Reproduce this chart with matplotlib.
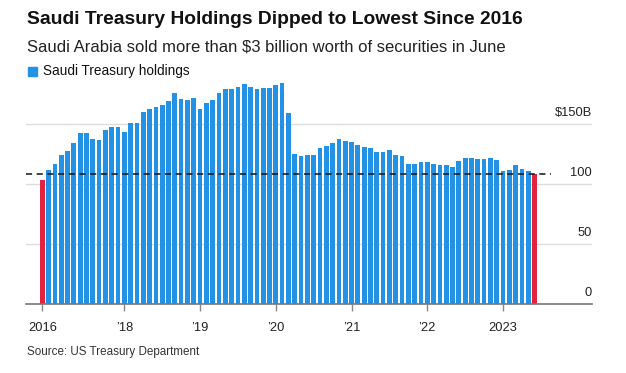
import matplotlib
matplotlib.use("Agg")
import matplotlib.pyplot as plt
from matplotlib.patches import Rectangle

# ---- data (monthly, Dec 2016 .. Jun 2023), $ billions ----
holdings = [
    103.3, 112.2, 116.7, 124.7, 127.5, 134.7, 142.5, 142.5, 138.0, 137.0,
    145.0, 148.0, 148.0, 143.6, 151.4, 151.4, 160.3, 162.5, 164.2, 166.4,
    169.4, 176.4, 171.4, 170.3, 171.9, 163.0, 167.5, 170.3, 176.4, 179.2,
    179.7, 180.8, 183.3, 181.4, 179.2, 180.0, 180.0, 182.5, 184.7, 159.4,
    125.6, 123.6, 124.4, 124.4, 130.0, 132.0, 134.4, 138.0, 136.4, 135.3,
    132.5, 131.1, 130.0, 127.2, 127.2, 128.3, 124.7, 123.9, 116.7, 116.7,
    118.9, 118.9, 116.7, 115.8, 115.8, 114.7, 119.2, 121.7, 121.7, 120.8,
    120.8, 121.9, 120.0, 111.1, 112.2, 116.2, 113.0, 111.0, 108.3,
]
highlight = [0, len(holdings) - 1]          # bars drawn in red
xtick_idx = [0, 13, 25, 37, 49, 61, 73]
xtick_labels = ["2016", "\u201918", "\u201919", "\u201920", "\u201921", "\u201922", "2023"]
ytick_vals = [0, 50, 100, 150]
ytick_labels = ["0", "50", "100", "$150B"]

BLUE = "#2392e4"
RED = "#e0243f"
FONT = ["Liberation Sans", "DejaVu Sans"]
plt.rcParams["font.family"] = FONT

W, H = 626, 373
fig = plt.figure(figsize=(W / 100, H / 100), dpi=100)

# plot area in pixels
px_left, px_right = 26, 592
px_zero, px_top = 304.3, 76.3
ax = fig.add_axes([px_left / W, 1 - px_zero / H,
                   (px_right - px_left) / W, (px_zero - px_top) / H])

x = list(range(len(holdings)))
colors = [RED if i in highlight else BLUE for i in x]
ax.bar(x, holdings, width=0.75, color=colors, zorder=2, linewidth=0)

ax.set_xlim(-2.58, 87.1)
ax.set_ylim(0, 190)

# gridlines
for v in ytick_vals[1:]:
    ax.axhline(v, color="#dcdcdc", linewidth=1.0, zorder=1)
for v, lab in zip(ytick_vals, ytick_labels):
    ax.text(1.0, v + 9.7, lab, transform=ax.get_yaxis_transform(),
            ha="right", va="center", fontsize=9.3, color="#222222")

# dashed reference line at latest value
ax.hlines(holdings[-1], -2.58, len(holdings) - 1 + 2.6, colors="#111111",
          linestyles=(0, (4, 3)), linewidth=1.1, zorder=3)

for s in ["top", "right", "left"]:
    ax.spines[s].set_visible(False)
ax.spines["bottom"].set_color("#777777")
ax.spines["bottom"].set_linewidth(1.2)
ax.spines["bottom"].set_zorder(4)
ax.set_yticks([])
ax.set_xticks(xtick_idx)
ax.set_xticklabels(xtick_labels)
ax.tick_params(axis="x", length=5, width=1, color="#888888", pad=8,
               labelsize=9.3, labelcolor="#222222")

# titles
fig.text(27 / W, 1 - 19 / H, "Saudi Treasury Holdings Dipped to Lowest Since 2016",
         fontsize=13.9, fontweight="bold", ha="left", va="center", color="#111111")
fig.text(27 / W, 1 - 47 / H,
         "Saudi Arabia sold more than $3 billion worth of securities in June",
         fontsize=12.0, ha="left", va="center", color="#222222")
# legend
fig.patches.append(Rectangle((28 / W, 1 - 76 / H), 9 / W, 9 / H,
                             transform=fig.transFigure, color=BLUE))
fig.text(43 / W, 1 - 71 / H, "Saudi Treasury holdings",
         fontsize=9.8, ha="left", va="center", color="#111111")
# source
fig.text(27 / W, 1 - 352 / H, "Source: US Treasury Department",
         fontsize=8.4, ha="left", va="center", color="#333333")

fig.savefig("out.png", dpi=100, facecolor="white")
